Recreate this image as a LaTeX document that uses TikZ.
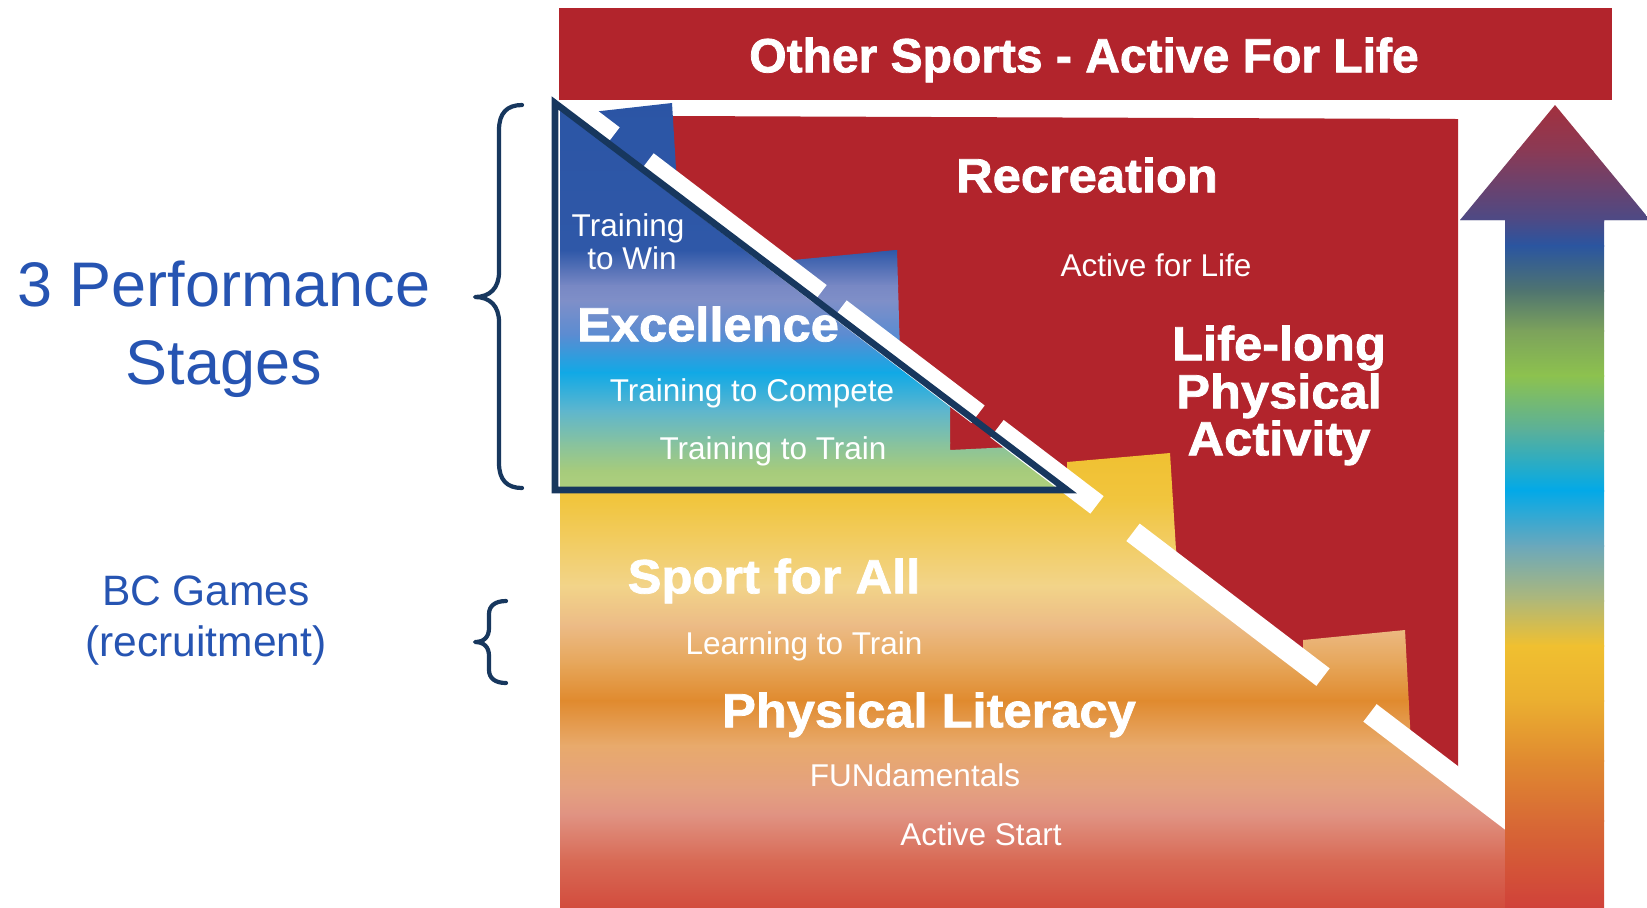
\documentclass[tikz,border=0pt]{standalone}
\usepackage{fontspec}
\setmainfont{Liberation Sans}
\newfontfamily\heavyfont{Liberation Sans}[BoldFeatures={FakeStretch=1.055,FakeBold=1.6}]
\newfontfamily\bannerfont{Liberation Sans}[BoldFeatures={FakeStretch=1.0,FakeBold=1.6}]
\definecolor{lredd}{RGB}{178,36,44}
\definecolor{navy}{RGB}{23,55,94}
\definecolor{txtblue}{RGB}{38,84,178}
% blue triangle gradient
\definecolor{gb1}{HTML}{2B55A5}\definecolor{gb2}{HTML}{2F58A8}\definecolor{gb3}{HTML}{7888C4}
\definecolor{gb4}{HTML}{7F8FC8}\definecolor{gb5}{HTML}{5A8CD2}\definecolor{gb6}{HTML}{10A9E6}
\definecolor{gb7}{HTML}{5EB6CE}\definecolor{gb8}{HTML}{86C2A0}\definecolor{gb9}{HTML}{A6CB7C}
\definecolor{gb10}{HTML}{B2D27E}
% lower gradient
\definecolor{gl1}{HTML}{F0C030}\definecolor{gl2}{HTML}{F1C53E}\definecolor{gl3}{HTML}{F2CE6A}
\definecolor{gl4}{HTML}{F2D489}\definecolor{gl5}{HTML}{ECBB86}\definecolor{gl6}{HTML}{E6A558}
\definecolor{gl7}{HTML}{E08A2E}\definecolor{gl8}{HTML}{E8AA6C}\definecolor{gl9}{HTML}{E4A080}
\definecolor{gl10}{HTML}{E09282}\definecolor{gl11}{HTML}{D86A55}\definecolor{gl12}{HTML}{D24A3C}
% arrow gradient
\definecolor{ga1}{HTML}{A52F3C}\definecolor{ga2}{HTML}{8A3A55}\definecolor{ga3}{HTML}{4C4A86}
\definecolor{ga4}{HTML}{2A55A0}\definecolor{ga5}{HTML}{4F7470}\definecolor{ga6}{HTML}{7CA25C}
\definecolor{ga7}{HTML}{8DC24E}\definecolor{ga8}{HTML}{5AB09A}\definecolor{ga9}{HTML}{02A9E8}
\definecolor{ga10}{HTML}{6AA8BC}\definecolor{ga11}{HTML}{B0B878}\definecolor{ga12}{HTML}{F0C030}
\definecolor{ga13}{HTML}{EBAF30}\definecolor{ga14}{HTML}{E08A30}\definecolor{ga15}{HTML}{D86A35}
\definecolor{ga16}{HTML}{D0403A}
\tikzset{
  wtxt/.style={text=white, anchor=base, inner sep=0pt, font=\fontsize{15.75}{18}\selectfont},
  htxt/.style={text=white, anchor=base, inner sep=0pt, font=\heavyfont\bfseries\fontsize{24}{28}\selectfont},
  btxt/.style={text=white, anchor=base, inner sep=0pt, font=\bannerfont\bfseries\fontsize{24}{28}\selectfont},
  bigblue/.style={text=txtblue, anchor=base, inner sep=0pt, font=\fontsize{31.5}{36}\selectfont},
  midblue/.style={text=txtblue, anchor=base, inner sep=0pt, font=\fontsize{21.25}{25}\selectfont},
  stripe/.style={white, line width=11pt, line cap=butt},
  brace/.style={navy, line width=2.1pt, line cap=round, line join=round},
}
\begin{document}
\begin{tikzpicture}[x={(0.5pt,0)}, y={(0,-0.5pt)}]
\clip (0,0) rectangle (1647,907);
\fill[white] (0,0) rectangle (1647,907);

% red recreation area
\fill[lredd] (672,116) -- (1458,119) -- (1458,790) -- (672,790) -- cycle;

% upper (excellence) region with blue-green gradient
\begin{scope}
\clip (560,96) -- (590,119) -- (592,112) -- (672,103) -- (677,185) -- (793,273) -- (793,260)
  -- (897,250) -- (900,355) -- (950,393) -- (950,450) -- (1012,447) -- (1012,439)
  -- (1067,482) -- (1067,492) -- (560,492) -- cycle;
\foreach \ya/\ca/\yb/\cb in {90/gb1/250/gb2, 250/gb2/285/gb3, 285/gb3/300/gb4, 300/gb4/335/gb5,
  335/gb5/372/gb6, 372/gb6/410/gb7, 410/gb7/442/gb8, 442/gb8/470/gb9, 470/gb9/495/gb10}
  \shade[top color=\ca, bottom color=\cb] (550,\ya) rectangle (1080,\yb+1);
\end{scope}

% lower (sport for all) region with yellow-orange-red gradient
\begin{scope}
\clip (560,488) -- (1067,488) -- (1067,462) -- (1170,453) -- (1177,566) -- (1303,662)
  -- (1303,640) -- (1405,630) -- (1411,744) -- (1510,819) -- (1510,910) -- (560,910) -- cycle;
\foreach \ya/\ca/\yb/\cb in {445/gl1/500/gl2, 500/gl2/550/gl3, 550/gl3/585/gl4, 585/gl4/625/gl5,
  625/gl5/665/gl6, 665/gl6/700/gl7, 700/gl7/745/gl8, 745/gl8/790/gl9, 790/gl9/815/gl10,
  815/gl10/860/gl11, 860/gl11/910/gl12}
  \shade[top color=\ca, bottom color=\cb] (550,\ya) rectangle (1520,\yb+1);
\end{scope}

% dashed white diagonal
\coordinate (s1a) at (548,86.6);  \coordinate (s1b) at (613,136.1);
\coordinate (s2a) at (647,162);   \coordinate (s2b) at (820,293.8);
\coordinate (s3a) at (840,309.1); \coordinate (s3b) at (978,414.2);
\coordinate (s4a) at (997,428.7); \coordinate (s4b) at (1097,504.9);
\coordinate (s5a) at (1133,532.3); \coordinate (s5b) at (1323,677.1);
\coordinate (s6a) at (1370,712.9); \coordinate (s6b) at (1520,827.2);
\foreach \i in {1,...,6} \draw[stripe] (s\i a) -- (s\i b);

% navy triangle outline
\coordinate (ta) at (555,103);
\coordinate (tb) at (555,490);
\coordinate (tc) at (1067,490);
\draw[navy, line width=3.3pt, line join=miter] (ta) -- (tb) -- (tc) -- cycle;

% top banner
\fill[lredd] (559,8) rectangle (1612,100);
\node[btxt] (banner) at (1084,72.3) {Other Sports - Active For Life};

% rainbow arrow
\begin{scope}
\clip (1555,105) -- (1650,220) -- (1604,220) -- (1604,910) -- (1505,910) -- (1505,220) -- (1460,220) -- cycle;
\foreach \ya/\ca/\yb/\cb in {100/ga1/150/ga2, 150/ga2/220/ga3, 220/ga3/245/ga4, 245/ga4/290/ga5,
  290/ga5/330/ga6, 330/ga6/375/ga7, 375/ga7/430/ga8, 430/ga8/490/ga9, 490/ga9/545/ga10,
  545/ga10/600/ga11, 600/ga11/645/ga12, 645/ga12/700/ga13, 700/ga13/760/ga14,
  760/ga14/820/ga15, 820/ga15/910/ga16}
  \shade[top color=\ca, bottom color=\cb] (1450,\ya) rectangle (1660,\yb+1);
\end{scope}

% texts in the diagram
\node[htxt] (recr) at (1087,192.3) {Recreation};
\node[wtxt] (afl) at (1156,276.3) {Active for Life};
\node[htxt] (ll1) at (1279,360.3) {Life-long};
\node[htxt] (ll2) at (1279,408.3) {Physical};
\node[htxt] (ll3) at (1279,455.3) {Activity};
\node[wtxt] (ttw1) at (628,236.3) {Training};
\node[wtxt] (ttw2) at (632,269.3) {to Win};
\node[htxt] (exc) at (708,341.3) {Excellence};
\node[wtxt] (ttc) at (752,401.3) {Training to Compete};
\node[wtxt] (ttt) at (773,459.3) {Training to Train};
\node[htxt] (sfa) at (774,593.3) {Sport for All};
\node[wtxt] (ltt) at (804,654.3) {Learning to Train};
\node[htxt] (pl) at (929,727.3) {Physical Literacy};
\node[wtxt] (fun) at (915,786.3) {FUNdamentals};
\node[wtxt] (as) at (981,845.3) {Active Start};

% braces
\draw[brace] (522,105) .. controls (507,105) and (499,113) .. (499,130) -- (499,272)
  .. controls (499,288) and (490,297) .. (475,297)
  .. controls (490,297) and (499,306) .. (499,322) -- (499,463)
  .. controls (499,480) and (507,488) .. (522,488);
\draw[brace] (506,601) .. controls (495,601) and (489,606) .. (489,614) -- (489,628)
  .. controls (489,637) and (484,642) .. (475,642)
  .. controls (484,642) and (489,647) .. (489,656) -- (489,670)
  .. controls (489,678) and (495,683) .. (506,683);

% left labels
\node[bigblue] (ps1) at (224,306.7) {3 Performance};
\node[bigblue] (ps2) at (224,384.7) {Stages};
\node[midblue] (bc1) at (206,605.3) {BC Games};
\node[midblue] (bc2) at (206,656.3) {(recruitment)};
\end{tikzpicture}
\end{document}
